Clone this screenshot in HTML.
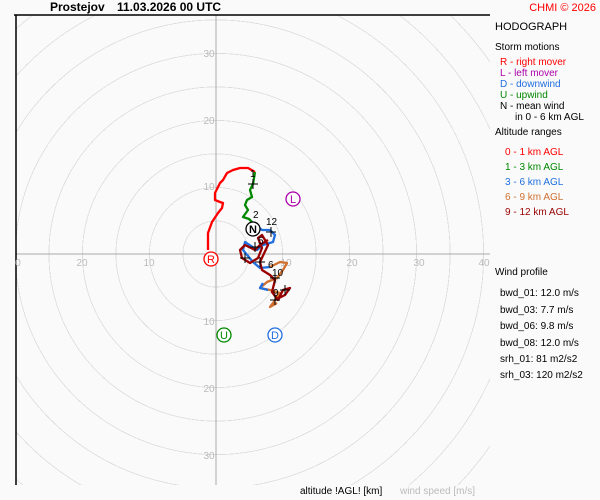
<!DOCTYPE html><html><head><meta charset="utf-8"><style>
html,body{margin:0;padding:0;width:600px;height:500px;background:#fafafa;font-family:"Liberation Sans",sans-serif;overflow:hidden}
#rings{position:absolute;left:16px;top:15px;width:474px;height:470px;
background:repeating-radial-gradient(circle at 200px 239px, rgba(0,0,0,0) 0, rgba(0,0,0,0) 32.7px, #dcdcdc 32.7px, #dcdcdc 33.5px)}
svg{position:absolute;left:0;top:0;display:block}
</style></head><body>
<div id="rings"></div>
<svg width="600" height="500" xmlns="http://www.w3.org/2000/svg" font-family="Liberation Sans, sans-serif">
<line x1="216" y1="15" x2="216" y2="485" stroke="#aaa"/>
<line x1="16" y1="254" x2="490" y2="254" stroke="#aaa"/>
<line x1="14" y1="15" x2="490" y2="15" stroke="#000" stroke-width="1.5"/>
<line x1="16" y1="15" x2="16" y2="485" stroke="#000" stroke-width="1.5"/>
<g font-size="10" fill="#bbb" text-anchor="middle">
<text x="18" y="266">0</text><text x="82" y="266">20</text><text x="149" y="266">10</text>
<text x="286" y="266">10</text><text x="352" y="266">20</text><text x="419" y="266">30</text><text x="484" y="266">40</text>
<text x="209" y="57">30</text><text x="209" y="124">20</text><text x="209" y="190">10</text>
<text x="209" y="325">10</text><text x="209" y="392">20</text><text x="209" y="459">30</text>
</g>
<g fill="none" stroke-width="2.3" stroke-linejoin="round">
<polyline stroke="#f00" points="208,250 208,233 212,222 218,213 222,208 223,203 220,202 215,200 215,193 220,183 223,180 227,173 233,170 240,168 248,168 255,172"/>
<polyline stroke="#080" points="255,172 253,184 250,190 252,197 247,200 245,205 248,210 243,217 249,219 252,222"/>
<polyline stroke="#1f6fe0" points="252,222 262,230 270,230 275,235 273,242 263,245 257,250 245,242 243,250 253,262 260,268 270,267"/>
<polyline stroke="#d07030" points="270,267 280,262 287,263 283,270 277,278 267,282 260,288 270,290 280,293 273,303 270,307 277,303"/>
<polyline stroke="#1f6fe0" points="263,283 260,288 268,290"/>
<polyline stroke="#900" points="268,240 260,245 255,250 245,245 240,250 242,258 250,263 258,258 262,248 258,238 262,235 268,245 260,262 262,270 270,275 275,280 272,292 278,300 283,290 290,288 285,295 275,300"/>
</g>
<g stroke="#000" stroke-width="1">
<path d="M248,184h10M253,179v10M266,232h10M271,227v10M255,262h10M260,257v10M250,247h10M255,242v10M240,258h10M245,253v10M270,278h10M275,273v10M270,300h10M275,295v10M280,290h10M285,285v10"/>
</g>
<g font-size="10" fill="#000"><text x="250" y="177">1</text><text x="253" y="218">2</text><text x="266" y="225">12</text><text x="258" y="244">5</text><text x="268" y="268">6</text><text x="272" y="276">10</text><text x="273" y="296">9</text></g>
<g font-size="11" text-anchor="middle" stroke-width="1.3">
<circle cx="211" cy="259" r="7" fill="#fff" stroke="#f00"/><text x="211" y="263" fill="#f00">R</text>
<circle cx="293" cy="199" r="7" fill="#fff" stroke="#a0a"/><text x="293" y="203" fill="#a0a">L</text>
<circle cx="275" cy="335" r="7" fill="#fff" stroke="#1f6fe0"/><text x="275" y="339" fill="#1f6fe0">D</text>
<circle cx="224" cy="335" r="7" fill="#fff" stroke="#080"/><text x="224" y="339" fill="#080">U</text>
<circle cx="253" cy="229" r="7" fill="#fff" stroke="#000"/><text x="253" y="233" fill="#000" font-weight="bold">N</text>
</g>
<text x="50" y="11" font-size="12" font-weight="bold">Prostejov</text>
<text x="117" y="11" font-size="12" font-weight="bold">11.03.2026 00 UTC</text>
<text x="596" y="11" font-size="11" fill="#f00" text-anchor="end">CHMI © 2026</text>
<g font-size="11">
<text x="495" y="30">HODOGRAPH</text>
<text x="495" y="50" font-size="10">Storm motions</text>
<text x="500" y="65" font-size="10" fill="#f00">R - right mover</text>
<text x="500" y="76" font-size="10" fill="#a0a">L - left mover</text>
<text x="500" y="87" font-size="10" fill="#1f6fe0">D - downwind</text>
<text x="500" y="98" font-size="10" fill="#080">U - upwind</text>
<text x="500" y="109" font-size="10">N - mean wind</text>
<text x="515" y="120" font-size="10">in 0 - 6 km AGL</text>
<text x="495" y="135" font-size="10">Altitude ranges</text>
<text x="505" y="155" font-size="10" fill="#f00">0 - 1 km AGL</text>
<text x="505" y="170" font-size="10" fill="#080">1 - 3 km AGL</text>
<text x="505" y="185" font-size="10" fill="#1f6fe0">3 - 6 km AGL</text>
<text x="505" y="200" font-size="10" fill="#d07030">6 - 9 km AGL</text>
<text x="505" y="215" font-size="10" fill="#900">9 - 12 km AGL</text>
<text x="495" y="275" font-size="10">Wind profile</text>
<text x="500" y="296" font-size="10">bwd_01: 12.0 m/s</text>
<text x="500" y="313" font-size="10">bwd_03: 7.7 m/s</text>
<text x="500" y="329" font-size="10">bwd_06: 9.8 m/s</text>
<text x="500" y="346" font-size="10">bwd_08: 12.0 m/s</text>
<text x="500" y="362" font-size="10">srh_01: 81 m2/s2</text>
<text x="500" y="378" font-size="10">srh_03: 120 m2/s2</text>
</g>
<text x="300" y="494" font-size="10">altitude !AGL! [km]</text>
<text x="400" y="494" font-size="10" fill="#bbb">wind speed [m/s]</text>
</svg>
</body></html>
